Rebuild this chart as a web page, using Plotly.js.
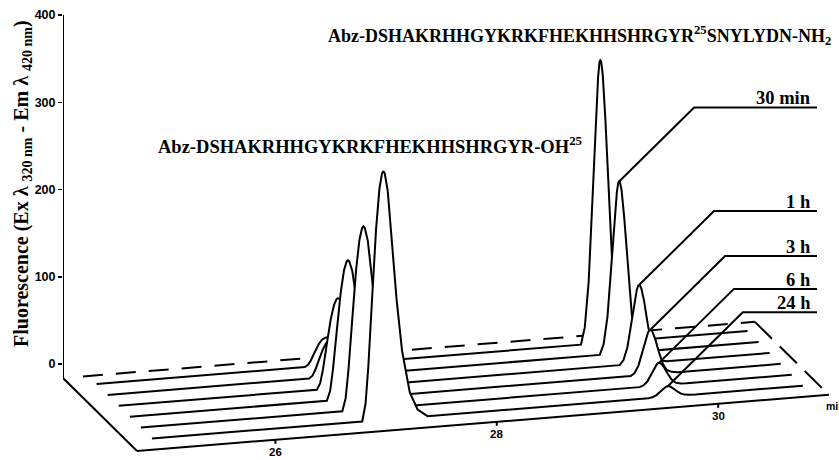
<!DOCTYPE html>
<html><head><meta charset="utf-8">
<script src="https://cdn.plot.ly/plotly-3.0.1.min.js"></script>
<style>html,body{margin:0;padding:0;background:#fff}#chart{width:839px;height:460px}</style>
</head><body><div id="chart"></div>
<script>
// ---------------- data ----------------
const sampleLabels = ['', '30 min', '1 h', '3 h', '6 h', '24 h'];

const time_0 = [24.98, 26.86, 26.89, 26.915, 26.95, 26.985, 27.015, 27.038, 27.05, 27.063, 27.09, 27.125, 27.17, 27.22, 27.29, 27.36, 27.45,
  29.355, 29.39, 29.425, 29.458, 29.488, 29.51, 29.523, 29.53, 29.538, 29.552, 29.576, 29.608, 29.645, 29.68, 29.725, 29.78, 30.86];
const fluor_0 = [0, 0, 2.2, 7.0, 16, 24.6, 29.8, 31.7, 32, 31.7, 29.4, 23, 15.4, 8.6, 3.2, 1, 0,
  0, 19.4, 71.3, 162, 256, 304.6, 322.4, 324, 322.4, 307.8, 256, 162, 71.3, 22.7, 6.5, 0, 0];

const time_30min = [24.98, 26.80, 26.83, 26.855, 26.89, 26.925, 26.955, 26.978, 26.99, 27.003, 27.03, 27.065, 27.11, 27.16, 27.23, 27.30, 27.39,
  29.425, 29.46, 29.495, 29.528, 29.558, 29.58, 29.593, 29.60, 29.608, 29.622, 29.646, 29.678, 29.715, 29.75, 29.795, 29.85, 30.86];
const fluor_30min = [0, 0, 2.9, 9.2, 21, 32.3, 39.1, 41.6, 42, 41.6, 38.6, 30.2, 20.2, 11.3, 4.2, 1.3, 0,
  0, 11.8, 43.3, 98.5, 155.6, 185.2, 196, 197, 196, 187.2, 155.6, 98.5, 43.3, 13.8, 3.9, 0, 0];

const time_1h = [24.98, 26.77, 26.80, 26.825, 26.86, 26.895, 26.925, 26.948, 26.96, 26.973, 27.00, 27.035, 27.08, 27.13, 27.20, 27.27, 27.36,
  29.505, 29.54, 29.575, 29.608, 29.638, 29.66, 29.673, 29.68, 29.688, 29.702, 29.726, 29.758, 29.795, 29.83, 29.875, 29.93, 30.86];
const fluor_1h = [0, 0, 7.2, 22.7, 51.5, 79.3, 95.8, 102, 103, 102, 94.8, 74.2, 49.4, 27.8, 10.3, 3.1, 0,
  0, 5.4, 19.8, 45, 71.1, 84.6, 89.6, 90, 89.6, 85.5, 71.1, 45, 19.8, 6.3, 1.8, 0, 0];

const time_3h = [24.98, 26.76, 26.79, 26.815, 26.85, 26.885, 26.915, 26.938, 26.95, 26.963, 26.99, 27.025, 27.07, 27.12, 27.19, 27.26, 27.35,
  29.505, 29.54, 29.575, 29.608, 29.638, 29.66, 29.673, 29.68, 29.688, 29.702, 29.726, 29.758, 29.795, 29.83, 29.875, 29.93, 30.86];
const fluor_3h = [0, 0, 11.1, 35, 79.5, 122.4, 147.9, 157.4, 159, 157.4, 146.3, 114.5, 76.3, 42.9, 15.9, 4.8, 0,
  0, 3.1, 11.2, 25.5, 40.3, 47.9, 50.7, 51, 50.7, 48.5, 40.3, 25.5, 11.2, 3.6, 1, 0, 0];

const time_6h = [24.98, 26.80, 26.83, 26.855, 26.89, 26.925, 26.955, 26.978, 26.99, 27.003, 27.03, 27.065, 27.11, 27.16, 27.23, 27.30, 27.39,
  29.485, 29.52, 29.555, 29.588, 29.618, 29.64, 29.653, 29.66, 29.668, 29.682, 29.706, 29.738, 29.775, 29.81, 29.855, 29.91, 30.86];
const fluor_6h = [0, 0, 14.7, 46.2, 105, 161.7, 195.3, 207.9, 210, 207.9, 193.2, 151.2, 100.8, 56.7, 21, 6.3, 0,
  0, 1.6, 5.7, 13, 20.5, 24.4, 25.9, 26, 25.9, 24.7, 20.5, 13, 5.7, 1.8, 0.5, 0, 0];

const time_24h = [24.98, 26.88, 26.91, 26.935, 26.97, 27.005, 27.035, 27.058, 27.07, 27.083, 27.11, 27.145, 27.19, 27.24, 27.31, 27.38, 27.47,
  29.465, 29.50, 29.535, 29.568, 29.598, 29.62, 29.633, 29.64, 29.648, 29.662, 29.686, 29.718, 29.755, 29.79, 29.835, 29.89, 30.86];
const fluor_24h = [0, 0, 20, 62.7, 142.5, 219.5, 265, 282.2, 285, 282.2, 262.2, 205.2, 136.8, 77, 28.5, 8.6, 0,
  0, 0.7, 2.6, 6, 9.5, 11.3, 11.9, 12, 11.9, 11.4, 9.5, 6, 2.6, 0.8, 0.2, 0, 0];

const yTickValues = [0, 100, 200, 300, 400];
const timeTickValues = [26, 28, 30];
const timeAxisLabel = 'min';
const yAxisTitle = 'Fluorescence (Ex λ <sub>320 nm</sub> - Em λ <sub>420 nm</sub>)';
const substrateLabel = 'Abz-DSHAKRHHGYKRKFHEKHHSHRGYR<sup>25</sup>SNYLYDN-NH<sub>2</sub>';
const productLabel = 'Abz-DSHAKRHHGYKRKFHEKHHSHRGYR-OH<sup>25</sup>';

// ---------------- geometry of the oblique projection ----------------
const times = [time_0, time_30min, time_1h, time_3h, time_6h, time_24h];
const fluors = [fluor_0, fluor_30min, fluor_1h, fluor_3h, fluor_6h, fluor_24h];
const DEPTH = [0.11, 0.2595, 0.409, 0.5585, 0.708, 0.8575];
const T_START = 24.75, T_END = 31.0;
const Z0 = -16.05;              // floor level on the vertical scale
const DX = 0.6685, DY = 83.67, KY = 10.30;
const PXMIN = 110.7, PXUNIT = 0.8725;
const W = 839, H = 460, L = 63, ZERO_PX = 364;

const PX = (t, f) => t + f * DX;
const PY = (t, f, s) => Z0 + s + (t - T_START) * KY - f * DY;

const serif = '"Liberation Serif", "Times New Roman", serif';
const sans = '"Liberation Sans", Arial, sans-serif';
const LW = 2;

const data = [];
times.forEach((ts, i) => {
  const f = DEPTH[i];
  data.push({
    type: 'scatter', mode: 'lines',
    x: ts.map(t => PX(t, f)),
    y: ts.map((t, k) => PY(t, f, fluors[i][k])),
    fill: 'toself', fillcolor: '#ffffff',
    line: {color: '#000', width: LW},
    hoverinfo: 'skip', showlegend: false
  });
});

// callout lines to the substrate peak of each labelled sample
const annotations = [];
const xEnd = T_START + (817 - L) / PXMIN;
times.forEach((ts, i) => {
  if (!sampleLabels[i]) return;
  const f = DEPTH[i];
  let best = -1, bi = 0;
  ts.forEach((t, k) => { if (t > 28.5 && fluors[i][k] > best) { best = fluors[i][k]; bi = k; } });
  const xa = PX(ts[bi], f), ya = PY(ts[bi], f, best);
  const xe = xa + 75 / PXMIN, ye = ya + 74 / PXUNIT;
  data.push({
    type: 'scatter', mode: 'lines', x: [xa, xe, xEnd], y: [ya, ye, ye],
    line: {color: '#000', width: LW}, hoverinfo: 'skip', showlegend: false
  });
  annotations.push({
    x: T_START + (813 - L) / PXMIN, y: ye, xref: 'x', yref: 'y',
    xanchor: 'right', yanchor: 'bottom', yshift: -3, showarrow: false,
    text: sampleLabels[i], font: {family: serif, size: 18.5, color: '#000', weight: 'bold'}
  });
});

// floor outline and vertical axis line
const shapes = [];
const seg = (x0, y0, x1, y1, dash) => shapes.push({type: 'line', xref: 'x', yref: 'y', x0, y0, x1, y1, layer: 'below',
  line: {color: '#000', width: LW, dash: dash || 'solid'}});
seg(PX(T_START + 0.18, 0), PY(T_START + 0.18, 0, 0), PX(T_END, 0), PY(T_END, 0, 0), '20px,13px');
seg(PX(T_START, 0), PY(T_START, 0, 0), PX(T_START, 1), PY(T_START, 1, 0));
seg(PX(T_END, 0), PY(T_END, 0, 0), PX(T_END, 1), PY(T_END, 1, 0), '24px,11px');
seg(PX(T_START, 1), PY(T_START, 1, 0), PX(T_END, 1), PY(T_END, 1, 0));
seg(T_START, Z0, T_START, 400);

timeTickValues.forEach(t => {
  const x = PX(t, 1), y = PY(t, 1, 0);
  seg(x, y, x, y - 4 / PXUNIT);
  annotations.push({x, y, xref: 'x', yref: 'y', xanchor: 'center', yanchor: 'top', yshift: -4, showarrow: false,
    text: String(t), font: {family: sans, size: 11.5, color: '#000', weight: 'bold'}});
});
annotations.push({x: PX(T_END, 1), y: PY(T_END, 1, 0), xref: 'x', yref: 'y', xanchor: 'left', yanchor: 'top', yshift: -3, xshift: -5,
  showarrow: false, text: timeAxisLabel, font: {family: sans, size: 10.5, color: '#000', weight: 'bold'}});

const pxToPaperX = p => (p - L) / (W - L);
const pxToPaperY = p => 1 - p / H;
annotations.push({xref: 'paper', yref: 'paper', x: pxToPaperX(22), y: pxToPaperY(184), textangle: -90,
  xanchor: 'center', yanchor: 'middle', showarrow: false, text: yAxisTitle,
  font: {family: serif, size: 20, color: '#000', weight: 'bold'}});
annotations.push({xref: 'paper', yref: 'paper', x: pxToPaperX(326), y: pxToPaperY(35), xanchor: 'left', yanchor: 'middle',
  showarrow: false, text: substrateLabel, font: {family: serif, size: 18, color: '#000', weight: 'bold'}});
annotations.push({xref: 'paper', yref: 'paper', x: pxToPaperX(156), y: pxToPaperY(145), xanchor: 'left', yanchor: 'middle',
  showarrow: false, text: productLabel, font: {family: serif, size: 18.5, color: '#000', weight: 'bold'}});

const layout = {
  width: W, height: H, margin: {l: L, r: 0, t: 0, b: 0},
  paper_bgcolor: '#fff', plot_bgcolor: '#fff', showlegend: false,
  xaxis: {range: [T_START, T_START + (W - L) / PXMIN], visible: false, fixedrange: true},
  yaxis: {range: [(ZERO_PX - H) / PXUNIT, ZERO_PX / PXUNIT], tickvals: yTickValues, ticks: 'outside', ticklen: 4,
    tickwidth: 1.5, tickcolor: '#000', showline: false, showgrid: false, zeroline: false, fixedrange: true,
    tickfont: {family: sans, size: 12.5, color: '#000', weight: 'bold'}},
  shapes, annotations
};
Plotly.newPlot('chart', data, layout, {displayModeBar: false, staticPlot: true});
</script></body></html>
